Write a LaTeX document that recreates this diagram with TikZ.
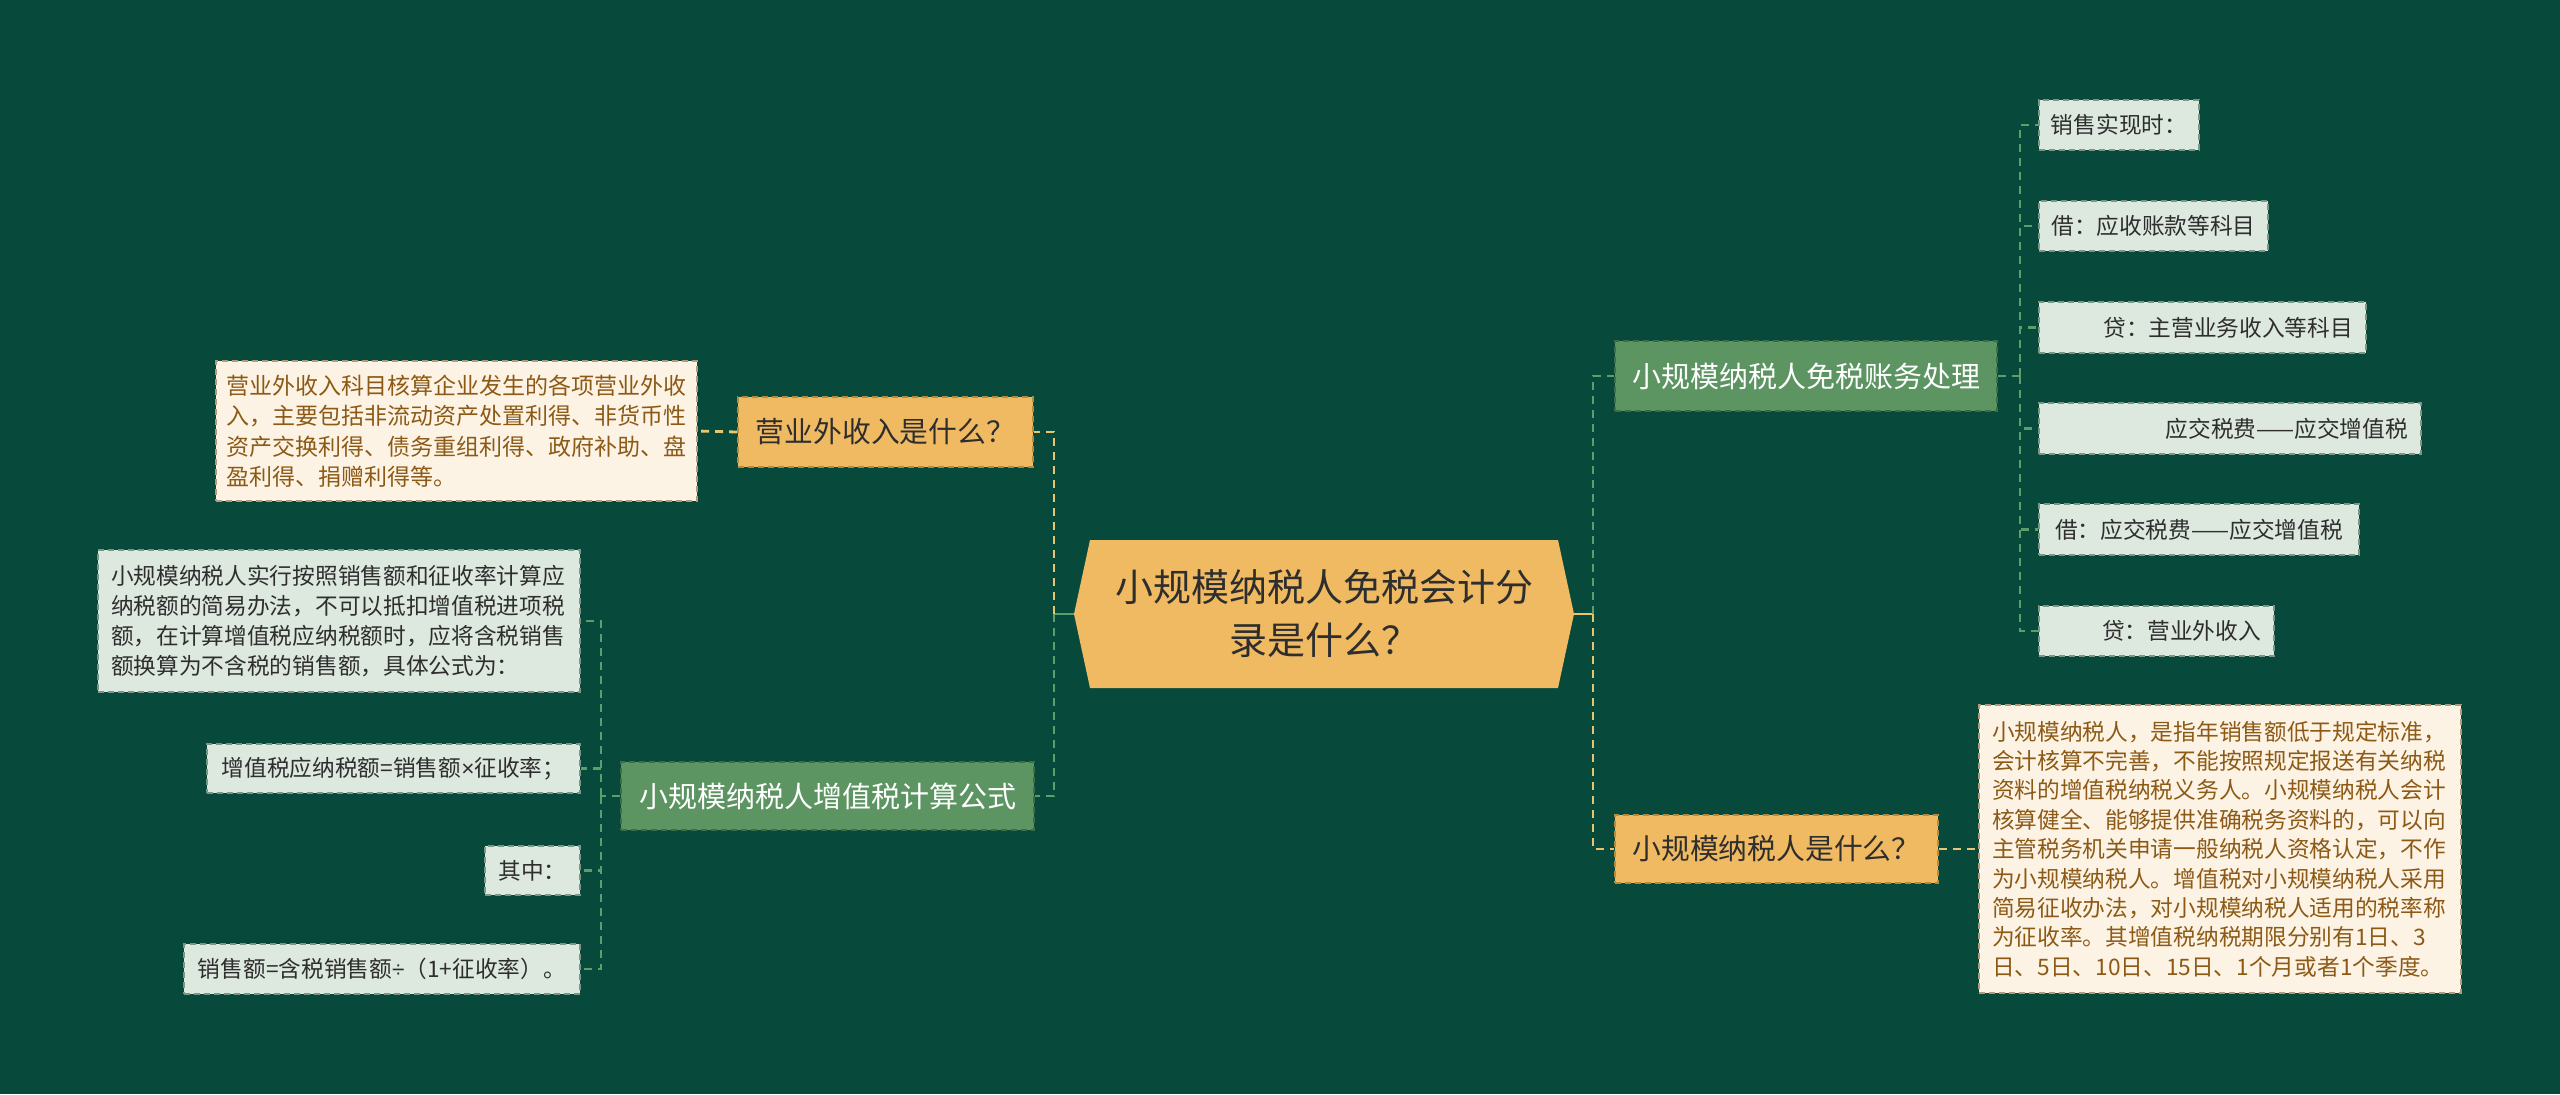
\documentclass[tikz,border=0pt]{standalone}
\usepackage{fontspec}
\setmainfont{Noto Sans CJK SC}
\newfontfamily\symf{Liberation Sans}
\definecolor{bg}{HTML}{07493A}
\definecolor{orangef}{HTML}{F0BA62}
\definecolor{orangeb}{HTML}{B8893E}
\definecolor{greenf}{HTML}{5C9462}
\definecolor{greenb}{HTML}{3E6E47}
\definecolor{lightf}{HTML}{DDE8DF}
\definecolor{lightb}{HTML}{7C9686}
\definecolor{creamf}{HTML}{FDF3E4}
\definecolor{creamb}{HTML}{B39A78}
\definecolor{darktext}{HTML}{2E2E2E}
\definecolor{browntext}{HTML}{8C5A16}
\definecolor{glc}{HTML}{5E9E6A}
\definecolor{ylc}{HTML}{E9C66E}
\begin{document}
\begin{tikzpicture}[x=0.5pt,y=-0.5pt,
  box/.style={draw, dash pattern=on 3pt off 2pt, line width=0.8pt, inner sep=0pt, align=center},
  obox/.style={box, fill=orangef, draw=orangeb, text=darktext, font=\fontsize{14.4pt}{18pt}\selectfont},
  gbox/.style={box, fill=greenf, draw=greenb, text=white, font=\fontsize{14.5pt}{18pt}\selectfont},
  lbox/.style={box, fill=lightf, draw=lightb, text=darktext, font=\fontsize{11.35pt}{15pt}\selectfont},
  cbox/.style={box, fill=creamf, draw=creamb, text=browntext},
  gline/.style={draw=glc, line width=1.4pt, dash pattern=on 4pt off 3pt},
  yline/.style={draw=ylc, line width=1.4pt, dash pattern=on 4pt off 3pt}]
\fill[bg] (0,0) rectangle (2560,1094);
\useasboundingbox (0,0) rectangle (2560,1094);
% central hexagon
\fill[orangef] (1074,614) -- (1090,540) -- (1558,540) -- (1574,614) -- (1558,688) -- (1090,688) -- cycle;
\node[inner sep=0pt, minimum width=250pt, minimum height=74pt, align=center, text=darktext,
  font=\fontsize{19pt}{26.5pt}\selectfont] (c) at (1324,614) {小规模纳税人免税会计分\\录是什么？};
\coordinate (lj) at (1054,614);
\coordinate (rj) at (1593,614);
% left side
\node[obox, minimum width=147.5pt, minimum height=35pt] (la) at (885.5,432) {营业外收入是什么？};
\node[cbox, minimum height=70pt, text width=230pt, inner xsep=5.25pt, align=left,
  font=\fontsize{11.5pt}{15.25pt}\selectfont] (lad) at (456.5,431)
  {营业外收入科目核算企业发生的各项营业外收\\入，主要包括非流动资产处置利得、非货币性\\资产交换利得、债务重组利得、政府补助、盘\\盈利得、捐赠利得等。};
\node[gbox, minimum width=206.5pt, minimum height=34pt] (lb) at (827.5,796) {小规模纳税人增值税计算公式};
\node[lbox, minimum height=71pt, text width=228pt, inner xsep=6.5pt, align=left] (k1) at (339,621)
  {小规模纳税人实行按照销售额和征收率计算应\\纳税额的简易办法，不可以抵扣增值税进项税\\额，在计算增值税应纳税额时，应将含税销售\\额换算为不含税的销售额，具体公式为：};
\node[lbox, minimum width=186.5pt, minimum height=24.5pt] (k2) at (393.5,768.5) {增值税应纳税额=销售额{\symf ×}征收率；};
\node[lbox, minimum width=47.5pt, minimum height=24.5pt] (k3) at (532.5,870.5) {其中：};
\node[lbox, minimum width=198pt, minimum height=25pt] (k4) at (382,969) {销售额=含税销售额{\symf ÷}（1+征收率）。};
\coordinate (lv) at (601,796);
% right side
\node[gbox, minimum width=191pt, minimum height=35pt] (ra) at (1806,376) {小规模纳税人免税账务处理};
\node[lbox, minimum width=80pt, minimum height=25pt] (j1) at (2119,125) {销售实现时：};
\node[lbox, minimum width=114.5pt, minimum height=25pt] (j2) at (2153.5,226) {借：应收账款等科目};
\node[lbox, text width=150.5pt, inner xsep=6.5pt, minimum height=25.5pt, align=right] (j3) at (2202.5,327.5) {贷：主营业务收入等科目};
\node[lbox, text width=178pt, inner xsep=6.5pt, minimum height=25.5pt, align=right] (j4) at (2230,428.5) {应交税费——应交增值税};
\node[lbox, minimum width=160pt, minimum height=25.5pt] (j5) at (2199,529.5) {借：应交税费——应交增值税};
\node[lbox, text width=104.5pt, inner xsep=6.5pt, minimum height=25pt, align=right] (j6) at (2156.5,631) {贷：营业外收入};
\coordinate (rv) at (2020,376);
\node[obox, minimum width=161.5pt, minimum height=34pt] (rb) at (1776.5,849) {小规模纳税人是什么？};
\node[cbox, minimum height=144pt, text width=228pt, inner xsep=6.5pt, align=left,
  font=\fontsize{11.35pt}{14.7pt}\selectfont] (rbd) at (2220,849)
  {小规模纳税人，是指年销售额低于规定标准，\\会计核算不完善，不能按照规定报送有关纳税\\资料的增值税纳税义务人。小规模纳税人会计\\核算健全、能够提供准确税务资料的，可以向\\主管税务机关申请一般纳税人资格认定，不作\\为小规模纳税人。增值税对小规模纳税人采用\\简易征收办法，对小规模纳税人适用的税率称\\为征收率。其增值税纳税期限分别有1日、3\\日、5日、10日、15日、1个月或者1个季度。};
% connectors left
\draw[gline, solid] (c.west) -- (lj);
\draw[yline] (lj) |- (la.east);
\draw[gline] (lj) |- (lb.east);
\draw[yline] (la.west) -- (lad.east);
\draw[gline] (lb.west) -- (lv);
\draw[gline] (lv) |- (k1.east);
\draw[gline] (lv) |- (k2.east);
\draw[gline] (lv) |- (k3.east);
\draw[gline] (lv) |- (k4.east);
% connectors right
\draw[yline, solid] (c.east) -- (rj);
\draw[gline] (rj) |- (ra.west);
\draw[yline] (rj) |- (rb.west);
\draw[yline] (rb.east) -- (rbd.west);
\draw[gline] (ra.east) -- (rv);
\draw[gline] (rv) |- (j1.west);
\draw[gline] (rv) |- (j2.west);
\draw[gline] (rv) |- (j3.west);
\draw[gline] (rv) |- (j4.west);
\draw[gline] (rv) |- (j5.west);
\draw[gline] (rv) |- (j6.west);
\end{tikzpicture}
\end{document}
